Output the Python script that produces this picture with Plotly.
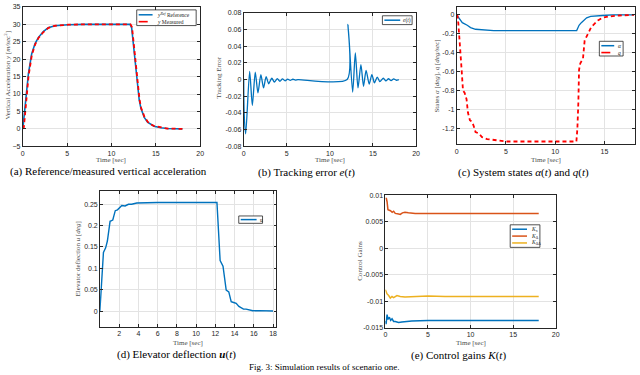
import plotly.graph_objects as go

# ---------------- data ----------------
# (a) vertical acceleration
t_ref = [0, 0.11, 0.19, 0.34, 0.49, 0.63, 0.82, 1.0, 1.38, 1.75, 2.31, 2.87, 3.62, 5.1, 7.0, 12.1,
         12.28, 12.46, 12.65, 12.76, 12.95, 13.13, 13.32, 13.5, 13.7, 14.07, 14.44, 14.8, 15.56, 16.3, 18.0]
y_ref = [0, 2.6, 4.5, 9.2, 13.0, 15.8, 18.7, 21.5, 24.5, 26.2, 27.9, 29.05, 29.6, 29.9, 30, 30,
         29, 24.5, 19.6, 16.8, 12.1, 8.3, 5.9, 4.5, 3.3, 1.9, 1.2, 0.75, 0.3, 0.1, 0.0]
t_meas = [0, 0.12, 0.22, 0.36, 0.5, 0.65, 0.84, 1.02, 1.4, 1.77, 2.33, 2.9, 3.65, 5.1, 7.0, 12.15,
          12.32, 12.5, 12.68, 12.8, 12.98, 13.16, 13.35, 13.53, 13.73, 14.1, 14.47, 14.83, 15.6, 16.3, 18.0]
y_meas = [0, 0.5, 3.2, 8.0, 12.3, 15.2, 18.3, 21.2, 24.3, 26.1, 27.8, 29.0, 29.6, 29.9, 30, 30,
          29.2, 24.8, 19.8, 17.0, 12.3, 8.5, 6.0, 4.6, 3.4, 2.0, 1.25, 0.8, 0.32, 0.1, 0.0]

# (b) tracking error
t_err = [0, 0.05, 0.23, 0.69, 1.0, 1.34, 1.65, 1.99, 2.3, 2.6, 2.9, 3.26, 3.56, 3.9, 4.2, 4.5, 4.8,
         5.1, 5.4, 5.7, 6.0, 6.3, 12.0, 12.1, 12.64, 12.95, 13.26, 13.6, 13.9, 14.2, 14.56, 14.87,
         15.17, 15.5, 15.8, 16.2, 16.5, 16.8, 17.1, 17.4, 17.7, 18.0]
e_err = [0, -0.04, -0.065, 0.0098, -0.031, 0.009, -0.016, 0.006, -0.01, 0.0035, -0.005, 0.0016,
         -0.003, 0.001, -0.002, 0.0008, -0.0015, 0.0006, -0.001, 0.0004, -0.0006, 0, 0, 0.066,
         -0.015, 0.032, -0.01, 0.018, -0.008, 0.011, -0.0055, 0.006, -0.004, 0.003, -0.0024,
         0.0016, -0.0016, 0.001, -0.0012, 0.0008, -0.0008, 0]

# (c) system states
t_alpha = [0, 0.57, 1.07, 1.41, 1.91, 2.58, 3.76, 12.18, 12.42, 12.65, 12.92, 13.19, 13.6, 14.16,
           14.83, 15.84, 18.0]
alpha = [0, -0.083, -0.11, -0.135, -0.152, -0.159, -0.166, -0.166, -0.11, -0.083, -0.052, -0.031,
         -0.017, -0.01, -0.007, 0, 0]
t_q = [0, 0.07, 0.17, 0.34, 0.5, 0.64, 0.8, 1.0, 1.14, 1.34, 1.58, 1.75, 1.91, 2.25, 2.58, 3.09,
       3.76, 5.1, 12.15, 12.25, 12.35, 12.42, 12.55, 12.82, 12.99, 13.15, 13.42, 13.66, 14.0, 14.33,
       14.83, 15.5, 16.5, 18.0]
q = [0, -0.007, -0.093, -0.30, -0.58, -0.80, -0.82, -0.89, -1.03, -1.11, -1.13, -1.18, -1.235,
     -1.25, -1.29, -1.31, -1.32, -1.335, -1.335, -1.2, -0.92, -0.58, -0.51, -0.46, -0.27, -0.23,
     -0.18, -0.128, -0.093, -0.06, -0.03, -0.017, -0.007, 0]

# (d) elevator deflection
t_u = [0, 0.12, 0.37, 0.6, 0.78, 1.06, 1.34, 1.6, 1.83, 2.28, 2.62, 2.97, 3.3, 3.84, 4.5, 6.0,
       12.17, 12.27, 12.5, 12.8, 13.03, 13.13, 13.4, 13.65, 13.9, 14.17, 14.45, 14.7, 14.93, 15.2,
       15.55, 15.9, 16.6, 17.2, 18.0]
u = [0, 0.053, 0.137, 0.148, 0.164, 0.21, 0.213, 0.235, 0.237, 0.247, 0.246, 0.25, 0.25, 0.253,
     0.2535, 0.254, 0.254, 0.213, 0.118, 0.105, 0.072, 0.049, 0.045, 0.022, 0.02, 0.018, 0.011,
     0.0084, 0.0046, 0.0046, 0.0023, 0.0008, 0.001, 0.0004, 0.0]

# (e) control gains
t_kx = [0, 0.08, 0.2, 0.3, 0.47, 0.62, 0.78, 0.97, 1.16, 1.55, 1.94, 2.33, 3.1, 5.0, 8.0, 18.0]
k_x = [-0.0137, -0.0143, -0.0125, -0.0134, -0.0130, -0.0136, -0.0133, -0.0138, -0.0138, -0.014,
       -0.0139, -0.0138, -0.0137, -0.0136, -0.0136, -0.0136]
t_kd = [0, 0.12, 0.2, 0.3, 0.6, 0.8, 0.97, 1.16, 1.55, 1.75, 2.0, 2.3, 2.7, 3.5, 5.0, 18.0]
k_d = [0.0094, 0.0094, 0.0088, 0.0073, 0.0071, 0.0068, 0.0070, 0.0066, 0.0065, 0.0064, 0.0067,
       0.0068, 0.0067, 0.0066, 0.0066, 0.0066]
t_kdd = [0, 0.2, 0.39, 0.58, 0.78, 0.97, 1.36, 1.74, 2.3, 3.5, 5.0, 7.0, 18.0]
k_dd = [-0.0078, -0.0086, -0.0089, -0.0094, -0.0091, -0.0093, -0.0089, -0.0091, -0.0092, -0.0091,
        -0.009, -0.0091, -0.0091]

# tick labels
ticks_a_y = [-5, 0, 5, 10, 15, 20, 25, 30, 35]
ticks_020 = [0, 5, 10, 15, 20]
ticks_b_y = [-0.08, -0.06, -0.04, -0.02, 0, 0.02, 0.04, 0.06, 0.08]
ticks_b_y_txt = ["-0.08", "-0.06", "-0.04", "-0.02", "0", "0.02", "0.04", "0.06", "0.08"]
ticks_c_x = [0, 5, 10, 15]
ticks_c_y = [-1.2, -1, -0.8, -0.6, -0.4, -0.2, 0]
ticks_c_y_txt = ["-1.2", "-1", "-0.8", "-0.6", "-0.4", "-0.2", "0"]
ticks_d_x = [2, 4, 6, 8, 10, 12, 14, 16, 18]
ticks_d_y = [0, 0.05, 0.1, 0.15, 0.2, 0.25]
ticks_d_y_txt = ["0", "0.05", "0.1", "0.15", "0.2", "0.25"]
ticks_e_y = [-0.015, -0.01, -0.005, 0, 0.005, 0.01]
ticks_e_y_txt = ["-0.015", "-0.01", "-0.005", "0", "0.005", "0.01"]

# ---------------- styling ----------------
W, H = 640, 375
BLUE = "#0072BD"
ORANGE = "#D95319"
YELLOW = "#EDB120"
RED = "#FF0000"
SANS = "Liberation Sans, Arial, sans-serif"
SERIF = "Liberation Serif, Times New Roman, serif"


def px(x):
    return x / W


def py(y):
    return 1 - y / H


def axis(dom, rng, tv, tt=None):
    d = dict(domain=dom, range=rng, tickvals=tv, showline=True, linecolor="#262626",
             linewidth=0.8, mirror="all", ticks="inside", ticklen=3, tickcolor="#262626",
             tickwidth=0.8, showgrid=True, gridcolor="#e3e3e3", gridwidth=0.8, zeroline=False,
             tickfont=dict(family=SANS, size=7, color="#262626"))
    if tt is not None:
        d["ticktext"] = tt
    return d


fig = go.Figure()

# (a)
fig.add_trace(go.Scatter(x=t_ref, y=y_ref, mode="lines", line=dict(color=BLUE, width=1.6),
                         xaxis="x", yaxis="y", showlegend=False))
fig.add_trace(go.Scatter(x=t_meas, y=y_meas, mode="lines",
                         line=dict(color=RED, width=1.8, dash="4px,3px"),
                         xaxis="x", yaxis="y", showlegend=False))
# (b)
fig.add_trace(go.Scatter(x=t_err, y=e_err, mode="lines",
                         line=dict(color=BLUE, width=1.3, shape="spline", smoothing=0.7),
                         xaxis="x2", yaxis="y2", showlegend=False))
# (c)
fig.add_trace(go.Scatter(x=t_alpha, y=alpha, mode="lines", line=dict(color=BLUE, width=1.3),
                         xaxis="x3", yaxis="y3", showlegend=False))
fig.add_trace(go.Scatter(x=t_q, y=q, mode="lines", line=dict(color=RED, width=1.8, dash="4px,3px"),
                         xaxis="x3", yaxis="y3", showlegend=False))
# (d)
fig.add_trace(go.Scatter(x=t_u, y=u, mode="lines", line=dict(color=BLUE, width=1.4),
                         xaxis="x4", yaxis="y4", showlegend=False))
# (e)
fig.add_trace(go.Scatter(x=t_kx, y=k_x, mode="lines", line=dict(color=BLUE, width=1.5),
                         xaxis="x5", yaxis="y5", showlegend=False))
fig.add_trace(go.Scatter(x=t_kd, y=k_d, mode="lines", line=dict(color=ORANGE, width=1.5),
                         xaxis="x5", yaxis="y5", showlegend=False))
fig.add_trace(go.Scatter(x=t_kdd, y=k_dd, mode="lines", line=dict(color=YELLOW, width=1.5),
                         xaxis="x5", yaxis="y5", showlegend=False))

layout = dict(
    width=W, height=H, margin=dict(l=0, r=0, t=0, b=0),
    paper_bgcolor="white", plot_bgcolor="white", showlegend=False,
    xaxis=axis([px(21), px(200)], [0, 20], ticks_020),
    yaxis=axis([py(145), py(3)], [-5, 35], ticks_a_y),
    xaxis2=axis([px(244), px(418)], [0, 20], ticks_020),
    yaxis2=axis([py(145), py(9)], [-0.08, 0.08], ticks_b_y, ticks_b_y_txt),
    xaxis3=axis([px(459), px(639)], [0, 18.1], ticks_c_x),
    yaxis3=axis([py(143), py(3)], [-1.365, 0.083], ticks_c_y, ticks_c_y_txt),
    xaxis4=axis([px(99), px(277)], [0.02, 18.35], ticks_d_x),
    yaxis4=axis([py(329), py(191)], [-0.037, 0.28], ticks_d_y, ticks_d_y_txt),
    xaxis5=axis([px(387), px(559)], [0, 20], ticks_020),
    yaxis5=axis([py(330), py(195)], [-0.015, 0.01], ticks_e_y, ticks_e_y_txt),
)
for i in ["", "2", "3", "4", "5"]:
    layout["xaxis" + i]["anchor"] = "y" + i
    layout["yaxis" + i]["anchor"] = "x" + i
fig.update_layout(**layout)

annotations = []
shapes = []


def text(x, y, s, size=7, color="#4d4d4d", family=SERIF, angle=0, xanchor="center"):
    annotations.append(dict(x=px(x), y=py(y), xref="paper", yref="paper", text=s,
                            showarrow=False, textangle=angle, xanchor=xanchor, yanchor="middle",
                            font=dict(family=family, size=size, color=color)))


# axis titles
text(110, 159, "Time [sec]")
text(331, 159, "Time [sec]")
text(549, 159, "Time [sec]")
text(188, 345, "Time [sec]")
text(473, 345, "Time [sec]")
text(6, 72, "Vertical Acceleration <i>y</i> [<i>m/sec</i><sup>2</sup>]", angle=-90)
text(219, 75, "Tracking Error", angle=-90)
text(439, 73, "States <i>α</i> [<i>deg</i>], <i>q</i> [<i>deg/sec</i>]", angle=-90)
text(77, 260, "Elevator deflection <i>u</i> [<i>deg</i>]", angle=-90)
text(361, 262, "Control Gains", angle=-90)

# captions
text(108, 171, "(a) Reference/measured vertical acceleration", size=11, color="black")
text(307, 172, "(b) Tracking error <i>e</i>(<i>t</i>)", size=11, color="black")
text(526, 172, "(c) System states <i>α</i>(<i>t</i>) and <i>q</i>(<i>t</i>)", size=11, color="black")
text(176, 357, "(d) Elevator deflection <b><i>u</i></b>(<i>t</i>)", size=11, color="black")
text(461, 358, "(e) Control gains <i>K</i>(<i>t</i>)", size=11, color="black")
text(325, 369.5, "Fig. 3: Simulation results of scenario one.", size=9, color="black")


def box(x0, y0, x1, y1):
    shapes.append(dict(type="rect", xref="paper", yref="paper", x0=px(x0), x1=px(x1),
                       y0=py(y1), y1=py(y0), line=dict(color="#262626", width=0.8),
                       fillcolor="white", layer="above"))


def seg(x0, x1, y, color, width=1.5, dash="solid"):
    shapes.append(dict(type="line", xref="paper", yref="paper", x0=px(x0), x1=px(x1),
                       y0=py(y), y1=py(y), line=dict(color=color, width=width, dash=dash),
                       layer="above"))


LEG = dict(size=5.5, color="#262626", family=SERIF, xanchor="left")
# legend (a)
box(136, 6, 196, 22)
seg(138, 152, 11, BLUE)
seg(138, 152, 18, RED, 1.6, "dash")
text(154, 11, "<i>y<sup>Ref</sup></i> Reference", **LEG)
text(154, 18, "<i>y</i> Measured", **LEG)
# legend (b)
box(384, 12, 414, 21)
seg(386, 402, 16.5, BLUE)
text(403, 16.5, "<i>e</i>(<i>t</i>)", **LEG)
# legend (c)
box(603, 38, 627, 53)
seg(605, 618, 42.5, BLUE)
seg(605, 618, 49.5, RED, 1.6, "dash")
text(620, 42.5, "<i>α</i>", **LEG)
text(620, 49.5, "<i>q</i>", **LEG)
# legend (d)
box(239, 216, 263, 223.5)
seg(241, 257, 219.7, BLUE)
text(258.5, 219.7, "u", **LEG)
# legend (e)
box(513, 225, 543, 248)
seg(515, 530, 229.5, BLUE)
seg(515, 530, 236.5, ORANGE)
seg(515, 530, 243.5, YELLOW)
text(532, 229.5, "<i>K</i><sub>x</sub>", **LEG)
text(532, 236.5, "<i>K</i><sub>Δ</sub>", **LEG)
text(532, 243.5, "<i>K</i><sub>ΔΔ</sub>", **LEG)

fig.update_layout(annotations=annotations, shapes=shapes)
fig.write_html("out.html", config={"displayModeBar": False},
               post_script="document.body.style.margin='0px';document.body.style.padding='0px';"
                           "document.body.style.overflow='hidden';")
